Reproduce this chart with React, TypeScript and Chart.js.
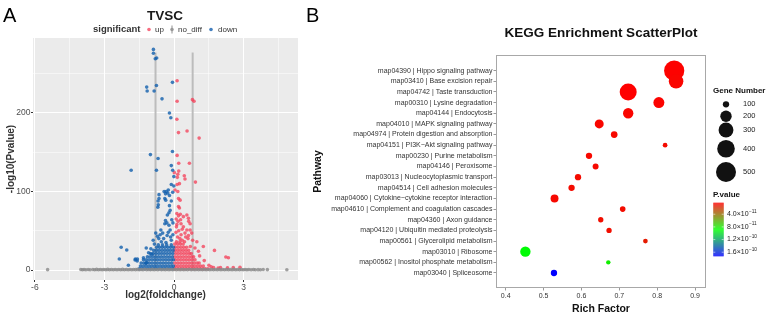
import React, { useEffect, useRef } from 'react';
import { Chart, registerables } from 'chart.js';

Chart.register(...registerables);

const FONT = '"Liberation Sans", Arial, Helvetica, sans-serif';
Chart.defaults.font.family = FONT;

// ================= Panel A : volcano plot =================
const volcanoTitle = 'TVSC';
const volcanoLegendTitle = 'significant';
const volcanoLegendLabels = ['up', 'no_diff', 'down'];
const volcanoXMajor = [-6, -3, 0, 3];
const volcanoXMinor = [-4.5, -1.5, 1.5, 4.5];
const volcanoYMajor = [0, 100, 200];
const volcanoYMinor = [50, 150, 250];
const foldThresholds = [-0.8, 0.8];
const thresholdLineTop = 277;

// isolated "down" genes (log2FC, -log10 p)
const downScatter: number[][] = [
  [-0.89, 281], [-0.89, 276], [-0.81, 269], [-0.75, 270], [-0.07, 239], [-1.18, 233], [-1.16, 228],
  [-0.76, 235], [-0.86, 228], [-0.52, 218], [-0.2, 200], [-0.14, 194], [-1.02, 147], [-0.69, 142],
  [-0.07, 151], [-0.12, 133], [-1.85, 127], [-0.76, 127], [-0.06, 127], [-0.01, 119], [-0.12, 109],
  [-0.01, 107], [-0.25, 102], [-0.06, 99], [-0.43, 100], [-0.37, 97], [-0.4, 91], [-0.65, 96],
  [-0.65, 91], [-0.69, 88], [-0.27, 98], [-0.2, 95], [-0.12, 88], [-0.34, 100], [-0.36, 89],
  [-0.17, 76], [-0.22, 73], [-0.29, 70], [-0.68, 83], [-0.7, 80], [-0.2, 82], [-0.37, 63],
  [-0.31, 60], [-0.4, 59], [-0.22, 57], [-0.17, 51], [-0.79, 47], [-0.72, 43], [-0.66, 40],
  [-0.57, 51], [-0.49, 47], [-0.1, 64], [-0.05, 60], [-0.45, 40], [-0.3, 44], [-0.15, 42],
  [-0.55, 36], [-0.9, 38], [-0.35, 35], [-0.05, 45], [-0.25, 48], [-0.6, 45], [-0.12, 38],
  [-1.0, 27], [-0.96, 20], [-1.67, 14], [-1.59, 11.5], [-1.32, 15.7], [-1.22, 8.5], [-2.28, 29],
  [-2.04, 25.5], [-2.36, 14], [-1.97, 6], [-1.68, 12.7], [-1.58, 14], [-1.18, 9.8], [-1.1, 22],
  [-1.2, 28], [-0.85, 33],
];

// dense "down" cloud, row by row
const downCloudY = [1.5, 5, 9, 13, 17, 21, 25, 29, 32];
const downCloudX: number[][] = [
  [-1.5, -1.38, -1.26, -1.14, -1.02, -0.9, -0.78, -0.66, -0.54, -0.42, -0.3, -0.18, -0.06],
  [-1.45, -1.33, -1.21, -1.09, -0.97, -0.85, -0.73, -0.61, -0.49, -0.37, -0.25, -0.13, -0.03],
  [-1.42, -1.3, -1.18, -1.06, -0.94, -0.82, -0.7, -0.58, -0.46, -0.34, -0.22, -0.1],
  [-1.32, -1.2, -1.08, -0.96, -0.84, -0.72, -0.6, -0.48, -0.36, -0.24, -0.12, -0.03],
  [-1.15, -1.03, -0.91, -0.79, -0.67, -0.55, -0.43, -0.31, -0.19, -0.07],
  [-1.02, -0.9, -0.78, -0.66, -0.54, -0.42, -0.3, -0.18, -0.06],
  [-0.88, -0.76, -0.64, -0.52, -0.4, -0.28, -0.16, -0.04],
  [-0.75, -0.63, -0.51, -0.39, -0.27, -0.15, -0.03],
  [-0.68, -0.5, -0.32, -0.12],
];

// isolated "up" genes
const upScatter: number[][] = [
  [0.13, 241], [0.13, 215], [0.79, 217], [0.86, 215], [0.12, 192], [0.19, 175], [0.56, 177],
  [1.08, 168], [0.13, 146], [0.2, 136], [0.66, 136], [0.2, 126], [0.01, 124], [0.44, 120],
  [0.14, 118], [0.47, 116], [0.16, 122], [0.92, 112], [0.13, 109], [0.23, 110], [0.04, 102],
  [0.16, 100], [0.19, 91], [0.26, 89], [0.19, 81], [0.23, 79], [0.12, 72], [0.19, 69], [0.27, 71],
  [0.09, 65], [0.17, 62], [0.3, 59], [0.4, 68], [0.55, 70], [0.62, 66], [0.63, 62], [0.69, 59],
  [0.4, 55], [0.55, 51], [0.47, 47], [0.69, 51], [0.76, 47], [1.05, 24], [1.74, 25], [2.23, 16.5],
  [2.34, 15.7], [1.26, 30], [0.98, 36], [2.84, 3.4], [0.3, 45], [0.2, 50], [0.1, 55], [0.6, 40],
  [0.8, 38], [0.5, 42], [0.35, 38], [0.9, 28], [1.1, 18], [1.3, 12], [1.5, 6], [1.7, 3], [1.9, 2.5],
  [0.7, 30], [0.15, 42], [0.08, 48], [0.25, 40], [0.45, 36], [0.62, 44], [0.35, 52], [0.12, 58],
  [0.28, 64], [1.6, 4], [2.0, 3], [2.3, 2.8], [2.55, 3.2],
];

// dense "up" cloud, row by row
const upCloudY = [1.5, 5, 9, 13, 17, 21, 25, 29, 33, 36];
const upCloudX: number[][] = [
  [0.03, 0.15, 0.27, 0.39, 0.51, 0.63, 0.75, 0.87, 0.99, 1.11, 1.23, 1.35, 1.46],
  [0.06, 0.18, 0.3, 0.42, 0.54, 0.66, 0.78, 0.9, 1.02, 1.14, 1.26],
  [0.03, 0.15, 0.27, 0.39, 0.51, 0.63, 0.75, 0.87, 0.99, 1.08],
  [0.06, 0.18, 0.3, 0.42, 0.54, 0.66, 0.78, 0.9],
  [0.03, 0.15, 0.27, 0.39, 0.51, 0.63, 0.75, 0.84],
  [0.06, 0.18, 0.3, 0.42, 0.54, 0.66, 0.74],
  [0.03, 0.15, 0.27, 0.39, 0.51, 0.63],
  [0.06, 0.18, 0.3, 0.42, 0.54],
  [0.03, 0.15, 0.27, 0.39],
  [0.1, 0.25],
];

// not significant genes
const noDiffPoints: number[][] = [
  [-5.45, 0.5], [-4.02, 0.6], [-3.95, 0.3], [-3.88, 0.7], [-3.8, 0.4], [-3.7, 0.6], [-3.62, 0.3],
  [-3.5, 0.6], [-3.42, 0.3], [-3.34, 0.8], [-3.26, 0.4], [-3.18, 0.7], [-3.1, 0.3], [-3.02, 0.6],
  [-2.94, 0.4], [-2.86, 0.8], [-2.78, 0.3], [-2.7, 0.6], [-2.62, 0.4], [-2.54, 0.7], [-2.46, 0.3],
  [-2.38, 0.6], [-2.3, 0.4], [-2.22, 0.8], [-2.14, 0.3], [-2.06, 0.6], [-1.98, 0.4], [-1.9, 0.7],
  [-1.82, 0.3], [-1.74, 0.6], [-1.66, 0.5], [-1.58, 0.8], [-1.5, 0.3], [-1.42, 0.6], [-1.34, 0.4],
  [-1.26, 0.9], [-1.18, 0.3], [-1.1, 0.6], [-1.02, 0.4], [-0.94, 0.8], [-0.86, 0.3], [-0.78, 0.6],
  [-0.7, 0.4], [-0.62, 0.9], [-0.54, 0.3], [-0.46, 0.6], [-0.38, 0.4], [-0.3, 0.8], [-0.22, 0.3],
  [-0.14, 0.6], [-0.06, 0.4], [0.02, 0.7], [0.1, 0.3], [0.18, 0.6], [0.26, 0.4], [0.34, 0.8],
  [0.42, 0.3], [0.5, 0.6], [0.58, 0.4], [0.66, 0.9], [0.74, 0.3], [0.82, 0.6], [0.9, 0.4],
  [0.98, 0.8], [1.06, 0.3], [1.14, 0.6], [1.22, 0.4], [1.3, 0.8], [1.38, 0.3], [1.46, 0.6],
  [1.54, 0.4], [1.62, 0.7], [1.7, 0.3], [1.78, 0.6], [1.86, 0.4], [1.94, 0.8], [2.02, 0.3],
  [2.1, 0.6], [2.18, 0.4], [2.26, 0.7], [2.34, 0.3], [2.42, 0.6], [2.5, 0.4], [2.58, 0.8],
  [2.66, 0.3], [2.74, 0.6], [2.82, 0.4], [2.9, 0.7], [2.98, 0.3], [3.06, 0.6], [3.14, 0.4],
  [3.22, 0.6], [3.32, 0.3], [3.42, 0.6], [3.5, 0.4], [3.62, 0.5], [3.72, 0.4], [3.84, 0.6],
  [4.02, 0.5], [4.86, 0.4],
];

// ================= Panel B : KEGG enrichment =================
const keggTitle = 'KEGG Enrichment ScatterPlot';
const pathways = [
  'map04390 | Hippo signaling pathway',
  'map03410 | Base excision repair',
  'map04742 | Taste transduction',
  'map00310 | Lysine degradation',
  'map04144 | Endocytosis',
  'map04010 | MAPK signaling pathway',
  'map04974 | Protein digestion and absorption',
  'map04151 | PI3K\u2212Akt signaling pathway',
  'map00230 | Purine metabolism',
  'map04146 | Peroxisome',
  'map03013 | Nucleocytoplasmic transport',
  'map04514 | Cell adhesion molecules',
  'map04060 | Cytokine\u2212cytokine receptor interaction',
  'map04610 | Complement and coagulation cascades',
  'map04360 | Axon guidance',
  'map04120 | Ubiquitin mediated proteolysis',
  'map00561 | Glycerolipid metabolism',
  'map03010 | Ribosome',
  'map00562 | Inositol phosphate metabolism',
  'map03040 | Spliceosome',
];
const richFactor = [0.845, 0.85, 0.7235, 0.8045, 0.7235, 0.647, 0.6866, 0.821, 0.62, 0.6375,
  0.591, 0.574, 0.529, 0.709, 0.651, 0.673, 0.769, 0.452, 0.671, 0.5275];
const geneNumber = [510, 290, 376, 189, 175, 145, 105, 80, 100, 95,
  100, 100, 125, 91, 87, 87, 80, 175, 77, 100];
const pValue = [4e-12, 5e-12, 3.5e-12, 4.5e-12, 5e-12, 5.5e-12, 6e-12, 7e-12, 6e-12, 6.5e-12,
  7e-12, 7e-12, 6e-12, 7.5e-12, 8e-12, 8e-12, 1.2e-11, 8.9e-11, 8.2e-11, 1.72e-10];
const richTicks = [0.4, 0.5, 0.6, 0.7, 0.8, 0.9];
const sizeBreaks = [100, 200, 300, 400, 500];
const pBreaks = [4e-11, 8e-11, 1.2e-10, 1.6e-10];
const pBreakMantissa = ['4.0\u00d710', '8.0\u00d710', '1.2\u00d710', '1.6\u00d710'];
const pBreakExponent = ['\u221211', '\u221211', '\u221210', '\u221210'];
const gradientColours = ['#FF0000', '#00FF00', '#0000FF'];

// ---------- colour / size scales ----------
function hexRgb(h: string) {
  return [parseInt(h.slice(1, 3), 16), parseInt(h.slice(3, 5), 16), parseInt(h.slice(5, 7), 16)];
}
const gradientRgb = gradientColours.map(hexRgb);
const pMin = Math.min(...pValue);
const pMax = Math.max(...pValue);
function rampColour(t: number) {
  t = Math.max(0, Math.min(1, t));
  const seg = t * (gradientRgb.length - 1);
  const i = Math.min(gradientRgb.length - 2, Math.floor(seg));
  const f = seg - i;
  const a = gradientRgb[i], b = gradientRgb[i + 1];
  const c = [0, 1, 2].map((k) => Math.round(a[k] + (b[k] - a[k]) * f));
  return `rgb(${c[0]},${c[1]},${c[2]})`;
}
const pColour = (p: number) => rampColour((p - pMin) / (pMax - pMin));
const sizeRadius = (n: number) => Math.sqrt(Math.max(4, (22.5 * n) / 100 - 12.5));

// ---------- plugins ----------
const volcanoDecor = {
  id: 'volcanoDecor',
  beforeDraw(chart: any) {
    const { ctx, chartArea: a } = chart;
    ctx.save();
    ctx.fillStyle = '#EBEBEB';
    ctx.fillRect(a.left, a.top, a.right - a.left, a.bottom - a.top);
    ctx.restore();
  },
  afterDraw(chart: any) {
    const { ctx } = chart;
    ctx.save();
    ctx.fillStyle = '#1a1a1a';
    ctx.textAlign = 'center';
    ctx.textBaseline = 'alphabetic';
    ctx.font = `bold 13.5px ${FONT}`;
    ctx.fillText(volcanoTitle, 165, 20);
    ctx.textAlign = 'left';
    ctx.fillStyle = '#333';
    ctx.font = `bold 9.5px ${FONT}`;
    ctx.fillText(volcanoLegendTitle, 93, 32.3);
    const keyX = [149, 172, 211];
    const textX = [155, 178, 218];
    const keyCol = ['rgba(244,60,85,0.75)', 'rgba(140,140,140,0.8)', 'rgba(20,95,175,0.8)'];
    ctx.font = `8px ${FONT}`;
    volcanoLegendLabels.forEach((lab, i) => {
      if (i === 1) {
        ctx.fillStyle = 'rgba(200,200,200,1)';
        ctx.fillRect(keyX[i] - 1, 25.5, 2, 8);
      }
      ctx.fillStyle = keyCol[i];
      ctx.beginPath();
      ctx.arc(keyX[i], 29.5, 1.8, 0, Math.PI * 2);
      ctx.fill();
      ctx.fillStyle = '#333';
      ctx.fillText(lab, textX[i], 32.3);
    });
    ctx.restore();
  },
};

const keggDecor = {
  id: 'keggDecor',
  afterDatasetsDraw(chart: any) {
    const { ctx, chartArea: a } = chart;
    ctx.save();
    ctx.strokeStyle = '#A8A8A8';
    ctx.lineWidth = 1;
    ctx.strokeRect(a.left + 0.5, a.top + 0.5, a.right - a.left - 1, a.bottom - a.top - 1);
    ctx.restore();
  },
  afterDraw(chart: any) {
    const { ctx, chartArea: a } = chart;
    ctx.save();
    ctx.fillStyle = '#111';
    ctx.textAlign = 'center';
    ctx.textBaseline = 'alphabetic';
    ctx.font = `bold 13.5px ${FONT}`;
    ctx.fillText(keggTitle, (a.left + a.right) / 2, 37.3);

    // size legend
    ctx.textAlign = 'left';
    ctx.font = `bold 8px ${FONT}`;
    ctx.fillText('Gene Number', 408, 92.7);
    const sizeY = [104.3, 116.3, 130, 148.7, 172];
    ctx.font = `7.5px ${FONT}`;
    ctx.textBaseline = 'middle';
    sizeBreaks.forEach((n, i) => {
      ctx.fillStyle = '#111';
      ctx.beginPath();
      ctx.arc(421, sizeY[i], sizeRadius(n), 0, Math.PI * 2);
      ctx.fill();
      ctx.fillStyle = '#222';
      ctx.fillText(String(n), 438, sizeY[i]);
    });

    // colour bar
    ctx.textBaseline = 'alphabetic';
    ctx.fillStyle = '#111';
    ctx.font = `bold 8px ${FONT}`;
    ctx.fillText('P.value', 408, 196.7);
    const barX = 408.3, barW = 10.4, barTop = 202.7, barH = 53.3;
    for (let k = 0; k < barH; k += 0.5) {
      ctx.fillStyle = rampColour(k / barH);
      ctx.fillRect(barX, barTop + k, barW, 0.6);
    }
    pBreaks.forEach((p, i) => {
      const y = barTop + ((p - pMin) / (pMax - pMin)) * barH;
      ctx.strokeStyle = 'rgba(255,255,255,0.9)';
      ctx.lineWidth = 0.6;
      ctx.beginPath();
      ctx.moveTo(barX, y); ctx.lineTo(barX + 2, y);
      ctx.moveTo(barX + barW - 2, y); ctx.lineTo(barX + barW, y);
      ctx.stroke();
      ctx.fillStyle = '#222';
      ctx.textBaseline = 'middle';
      ctx.font = `7px ${FONT}`;
      ctx.fillText(pBreakMantissa[i], 422, y);
      const w = ctx.measureText(pBreakMantissa[i]).width;
      ctx.font = `4.8px ${FONT}`;
      ctx.fillText(pBreakExponent[i], 422 + w + 0.3, y - 2.8);
    });
    ctx.restore();
  },
};

const isOneOf = (arr: number[], v: number) => arr.some((m) => Math.abs(m - v) < 1e-9);

export default function App() {
  const refA = useRef<HTMLCanvasElement>(null);
  const refB = useRef<HTMLCanvasElement>(null);

  useEffect(() => {
    const toXY = (arr: number[][]) => arr.map((p) => ({ x: p[0], y: p[1] }));
    const cloud = (ys: number[], xs: number[][]) =>
      ys.flatMap((y, r) => xs[r].map((x) => ({ x, y })));

    const downData = [...cloud(downCloudY, downCloudX), ...toXY(downScatter)];
    const upData = [...cloud(upCloudY, upCloudX), ...toXY(upScatter)];

    const chartA = new Chart(refA.current as HTMLCanvasElement, {
      type: 'scatter',
      data: {
        datasets: [
          ...foldThresholds.map((fc) => ({
            data: [{ x: fc, y: 0 }, { x: fc, y: thresholdLineTop }],
            showLine: true,
            borderColor: 'rgba(188,188,188,1)',
            borderWidth: 2,
            pointRadius: 0,
            order: 10,
          })),
          {
            data: toXY(noDiffPoints),
            backgroundColor: 'rgba(138,138,138,0.8)',
            borderWidth: 0,
            pointRadius: 1.8,
            order: 1,
          },
          {
            data: downData,
            backgroundColor: 'rgba(18,95,172,0.8)',
            borderWidth: 0,
            pointRadius: 1.8,
            order: 2,
          },
          {
            data: upData,
            backgroundColor: 'rgba(244,60,85,0.75)',
            borderWidth: 0,
            pointRadius: 1.8,
            order: 2,
          },
        ] as any,
      },
      options: {
        responsive: false,
        animation: false,
        events: [],
        layout: { padding: { top: 38, right: 7, left: 0, bottom: 0 } },
        plugins: { legend: { display: false }, tooltip: { enabled: false } },
        scales: {
          x: {
            type: 'linear',
            min: -6.08,
            max: 5.34,
            afterBuildTicks: (s: any) => {
              s.ticks = [...volcanoXMajor, ...volcanoXMinor].sort((p, q) => p - q).map((v) => ({ value: v }));
            },
            afterFit: (s: any) => { s.height = 38; },
            ticks: {
              autoSkip: false,
              maxRotation: 0,
              padding: 1,
              color: '#4D4D4D',
              font: { size: 8.5 },
              callback: (v: any) => (isOneOf(volcanoXMajor, v) ? String(v) : ''),
            },
            grid: {
              color: '#FFFFFF',
              lineWidth: (c: any) => (isOneOf(volcanoXMajor, c.tick?.value) ? 1 : 0.5),
              tickColor: (c: any) => (isOneOf(volcanoXMajor, c.tick?.value) ? '#333333' : 'rgba(0,0,0,0)'),
              tickWidth: 1,
              tickLength: 2,
            },
            border: { display: false },
            title: {
              display: true,
              text: 'log2(foldchange)',
              color: '#333',
              font: { size: 10, weight: 'bold' },
              padding: { top: 0, bottom: 17 },
            },
          },
          y: {
            type: 'linear',
            min: -12.7,
            max: 295.5,
            afterBuildTicks: (s: any) => {
              s.ticks = [...volcanoYMajor, ...volcanoYMinor].sort((p, q) => p - q).map((v) => ({ value: v }));
            },
            afterFit: (s: any) => { s.width = 33; },
            ticks: {
              autoSkip: false,
              padding: 0.5,
              color: '#4D4D4D',
              font: { size: 8.5 },
              callback: (v: any) => (isOneOf(volcanoYMajor, v) ? String(v) : ''),
            },
            grid: {
              color: '#FFFFFF',
              lineWidth: (c: any) => (isOneOf(volcanoYMajor, c.tick?.value) ? 1 : 0.5),
              tickColor: (c: any) => (isOneOf(volcanoYMajor, c.tick?.value) ? '#333333' : 'rgba(0,0,0,0)'),
              tickWidth: 1,
              tickLength: 2,
            },
            border: { display: false },
            title: {
              display: true,
              text: '-log10(Pvalue)',
              color: '#333',
              font: { size: 10, weight: 'bold' },
              padding: { top: 5.5, bottom: 0 },
            },
          },
        },
      } as any,
      plugins: [volcanoDecor],
    });

    const chartB = new Chart(refB.current as HTMLCanvasElement, {
      type: 'scatter',
      data: {
        datasets: [
          {
            data: richFactor.map((x, i) => ({ x, y: i })),
            pointRadius: (c: any) => sizeRadius(geneNumber[c.dataIndex]),
            backgroundColor: (c: any) => pColour(pValue[c.dataIndex]),
            borderWidth: 0,
          },
        ] as any,
      },
      options: {
        responsive: false,
        animation: false,
        events: [],
        layout: { padding: { top: 55, right: 64, left: 0, bottom: 0 } },
        plugins: { legend: { display: false }, tooltip: { enabled: false } },
        scales: {
          x: {
            type: 'linear',
            min: 0.3744,
            max: 0.929,
            afterBuildTicks: (s: any) => { s.ticks = richTicks.map((v) => ({ value: v })); },
            afterFit: (s: any) => { s.height = 30; },
            ticks: {
              autoSkip: false,
              maxRotation: 0,
              padding: 1,
              color: '#333',
              font: { size: 7 },
              callback: (v: any) => Number(v).toFixed(1),
            },
            grid: { drawOnChartArea: false, tickLength: 2.5, tickColor: '#999', tickWidth: 1 },
            border: { display: false },
            title: {
              display: true,
              text: 'Rich Factor',
              color: '#111',
              font: { size: 10.5, weight: 'bold' },
              padding: { top: 0, bottom: 2.2 },
            },
          },
          y: {
            type: 'linear',
            reverse: true,
            min: -1.47,
            max: 20.41,
            afterBuildTicks: (s: any) => { s.ticks = pathways.map((_, i) => ({ value: i })); },
            afterFit: (s: any) => { s.width = 191; },
            ticks: {
              autoSkip: false,
              padding: 1,
              color: '#333',
              font: { size: 7 },
              callback: (v: any) => pathways[Math.round(Number(v))],
            },
            grid: { drawOnChartArea: false, tickLength: 2.5, tickColor: '#999', tickWidth: 1 },
            border: { display: false },
            title: {
              display: true,
              text: 'Pathway',
              color: '#111',
              font: { size: 10.5, weight: 'bold' },
              padding: { top: 6.7, bottom: 0 },
            },
          },
        },
      } as any,
      plugins: [keggDecor],
    });

    return () => {
      chartA.destroy();
      chartB.destroy();
    };
  }, []);

  const letter: React.CSSProperties = {
    position: 'absolute',
    fontFamily: FONT,
    fontSize: 20,
    lineHeight: '20px',
    color: '#000',
    margin: 0,
  };

  return (
    <div style={{ position: 'absolute', left: 0, top: 0, width: 770, height: 318, background: '#fff', overflow: 'hidden' }}>
      <canvas ref={refA} width={305} height={318} style={{ position: 'absolute', left: 0, top: 0, width: 305, height: 318 }} />
      <canvas ref={refB} width={465} height={318} style={{ position: 'absolute', left: 305, top: 0, width: 465, height: 318 }} />
      <div style={{ ...letter, left: 3, top: 5.4 }}>A</div>
      <div style={{ ...letter, left: 306, top: 5.4 }}>B</div>
    </div>
  );
}
